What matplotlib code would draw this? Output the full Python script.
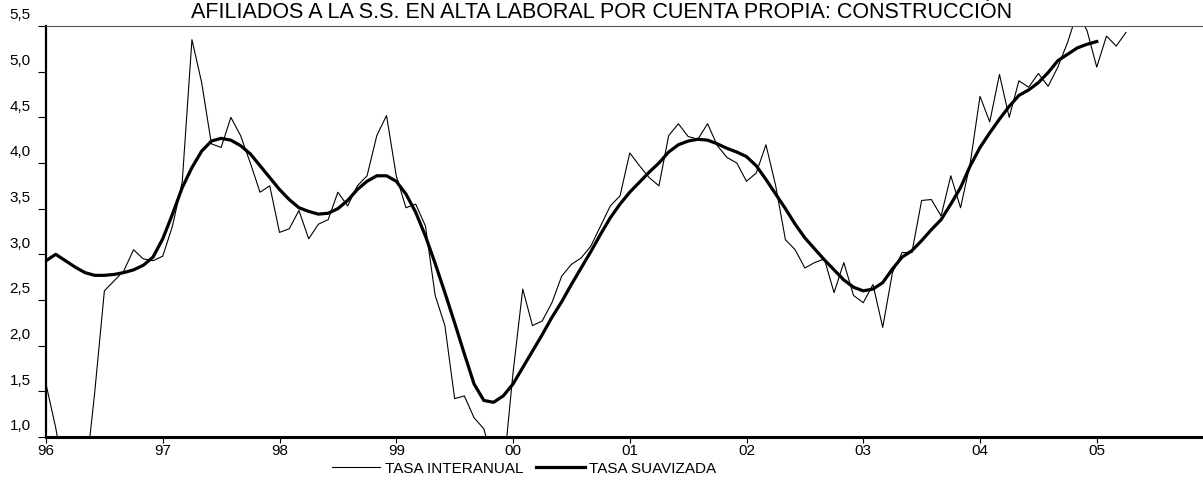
import matplotlib
matplotlib.use("Agg")
from matplotlib import pyplot as plt
from matplotlib import transforms
import numpy as np

plt.rcParams["font.family"] = ["Liberation Sans", "DejaVu Sans"]

# monthly series starting January 1996 (% interanual)
start_year = 1996
tasa_interanual = [
    1.58, 1.10, 0.50, 0.35, 0.50, 1.48, 2.60, 2.71, 2.82, 3.05, 2.95, 2.93,
    2.98, 3.31, 3.79, 5.35, 4.88, 4.21, 4.17, 4.50, 4.30, 4.00, 3.68, 3.75,
    3.24, 3.28, 3.48, 3.17, 3.33, 3.38, 3.68, 3.53, 3.75, 3.86, 4.30, 4.52,
    3.86, 3.51, 3.55, 3.31, 2.55, 2.22, 1.42, 1.45, 1.21, 1.09, 0.70, 0.60,
    1.70, 2.62, 2.22, 2.27, 2.47, 2.76, 2.89, 2.96, 3.09, 3.31, 3.53, 3.64,
    4.11, 3.97, 3.84, 3.75, 4.30, 4.43, 4.29, 4.26, 4.43, 4.19, 4.06, 4.00,
    3.80, 3.89, 4.20, 3.75, 3.16, 3.05, 2.85, 2.91, 2.95, 2.58, 2.91, 2.55,
    2.47, 2.67, 2.20, 2.80, 3.02, 3.02, 3.59, 3.60, 3.42, 3.86, 3.51, 4.00,
    4.73, 4.45, 4.97, 4.50, 4.90, 4.83, 4.98, 4.84, 5.05, 5.32, 5.65, 5.45,
    5.05, 5.39, 5.28, 5.43,
]
tasa_suavizada = [
    2.93, 3.00, 2.93, 2.86, 2.80, 2.77, 2.77, 2.78, 2.80, 2.83, 2.88, 2.97,
    3.17, 3.44, 3.73, 3.95, 4.13, 4.24, 4.27, 4.25, 4.19, 4.10, 3.97, 3.84,
    3.71, 3.60, 3.51, 3.47, 3.44, 3.45, 3.50, 3.59, 3.71, 3.80, 3.86, 3.86,
    3.80, 3.66, 3.46, 3.20, 2.90, 2.58, 2.25, 1.91, 1.58, 1.40, 1.38, 1.45,
    1.58, 1.76, 1.94, 2.12, 2.31, 2.48, 2.67, 2.85, 3.03, 3.22, 3.40, 3.55,
    3.68, 3.79, 3.90, 4.00, 4.12, 4.20, 4.24, 4.26, 4.25, 4.21, 4.16, 4.12,
    4.07, 3.97, 3.82, 3.66, 3.50, 3.33, 3.18, 3.06, 2.94, 2.83, 2.72, 2.64,
    2.60, 2.62, 2.69, 2.84, 2.97, 3.04, 3.15, 3.27, 3.38, 3.55, 3.73, 3.97,
    4.17, 4.33, 4.48, 4.62, 4.74, 4.80, 4.88, 4.99, 5.12, 5.19, 5.26, 5.30,
    5.33,
]
year_ticks = list(range(1996, 2006))
year_labels = ["96", "97", "98", "99", "00", "01", "02", "03", "04", "05"]
y_ticks = [1.0, 1.5, 2.0, 2.5, 3.0, 3.5, 4.0, 4.5, 5.0, 5.5]

t_raw = start_year + np.arange(len(tasa_interanual)) / 12.0
t_smooth = start_year + np.arange(len(tasa_suavizada)) / 12.0

fig = plt.figure(figsize=(12.03, 4.85), dpi=100)
ax = fig.add_axes([46 / 1203, 47 / 485, 1 - 46 / 1203, 411 / 485])

ax.plot(t_raw, tasa_interanual, color="black", lw=0.8, label="TASA INTERANUAL")
ax.plot(t_smooth, tasa_suavizada, color="black", lw=2.3, label="TASA SUAVIZADA")

ax.set_xlim(1996, 2005.91)
ax.set_ylim(1.0, 5.5)

ax.set_xticks(year_ticks)
ax.set_xticklabels(year_labels, fontsize=11)
ax.set_yticks(y_ticks)
ax.set_yticklabels([f"{v:.1f}".replace(".", ",") for v in y_ticks], fontsize=11)
ax.tick_params(axis="x", direction="out", length=4, width=0.8, pad=0)
ax.tick_params(axis="y", direction="out", length=6, width=0.8, pad=5)

# value labels sit slightly above their tick marks
shift = transforms.ScaledTranslation(0, 9.5 / 72, fig.dpi_scale_trans)
for lab in ax.get_yticklabels():
    lab.set_transform(lab.get_transform() + shift)

ax.spines["right"].set_visible(False)
ax.spines["top"].set_color("#555555")
ax.spines["top"].set_linewidth(0.8)
ax.spines["left"].set_linewidth(1.6)
ax.spines["bottom"].set_linewidth(2.2)

fig.text(0.5, 1 - 12 / 485, "AFILIADOS A LA S.S. EN ALTA LABORAL POR CUENTA PROPIA: CONSTRUCCIÓN",
         ha="center", va="center", fontsize=15.5)

fig.legend(loc="center", bbox_to_anchor=(524 / 1203, 1 - 469 / 485), ncol=2, frameon=False,
           fontsize=11, handlelength=3.2, handletextpad=0.3, columnspacing=0.8,
           borderaxespad=0, borderpad=0)

fig.savefig("out.png", dpi=100)
plt.close(fig)
